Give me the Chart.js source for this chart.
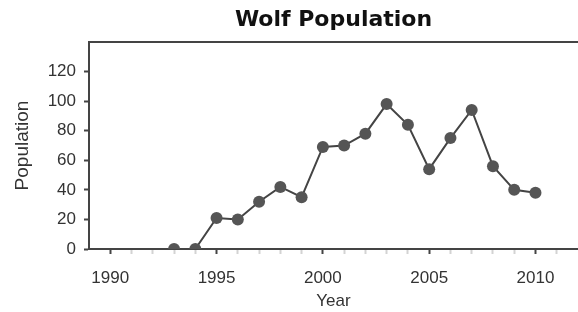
<!DOCTYPE html>
<html><head><meta charset="utf-8">
<script src="https://cdn.jsdelivr.net/npm/chart.js@4"></script>
<style>html,body{margin:0;padding:0;background:#fff}#c{display:block}</style>
</head><body>
<canvas id="c" width="578" height="312"></canvas>
<script>
const years = [1993,1994,1995,1996,1997,1998,1999,2000,2001,2002,2003,2004,2005,2006,2007,2008,2009,2010];
const population = [0,0,21,20,32,42,35,69,70,78,98,84,54,75,94,56,40,38];
const yTicks = [0,20,40,60,80,100,120];
const xTicks = [1990,1995,2000,2005,2010];
const xMinorTicks = [1991,1992,1993,1994,1996,1997,1998,1999,2001,2002,2003,2004,2006,2007,2008,2009,2011];

const frame = {
  id:'frame',
  afterDraw(chart){
    const {ctx, chartArea:a} = chart;
    ctx.save();
    ctx.strokeStyle='#444'; ctx.lineWidth=2;
    ctx.beginPath(); ctx.moveTo(a.left-1, a.top); ctx.lineTo(a.right, a.top); ctx.stroke();
    ctx.restore();
  }
};
const fam = '"Liberation Sans", Arial, sans-serif';
const tickFont = {family:fam, size:17};
new Chart(document.getElementById('c'), {
  type:'scatter',
  data:{datasets:[{
    data: years.map((y,i)=>({x:y, y:population[i]})),
    showLine:true, borderColor:'#444', borderWidth:2,
    pointRadius:6, pointBackgroundColor:'#555', pointBorderColor:'#555', pointBorderWidth:0
  }]},
  options:{
    responsive:false, animation:false,
    layout:{padding:0, autoPadding:false},
    plugins:{
      legend:{display:false}, tooltip:{enabled:false},
      title:{display:true, fullSize:false, text:'Wolf Population', color:'#111',
        font:{family:'"DejaVu Sans", sans-serif', size:22, weight:'bold'},
        padding:{top:7.5, bottom:8.1}}
    },
    scales:{
      x:{type:'linear', min:1989, max:2012,
        afterBuildTicks(s){ s.ticks = xTicks.concat(xMinorTicks).sort((a,b)=>a-b).map(v=>({value:v})); },
        afterFit(s){ s.height = 63; },
        grid:{drawOnChartArea:false, tickLength:5, tickWidth:2,
          tickColor:(c)=> xTicks.includes(c.tick && c.tick.value) ? '#444' : 'rgba(80,80,80,0.25)'},
        border:{color:'#444', width:2},
        ticks:{color:'#333', font:tickFont, padding:14, maxRotation:0, autoSkip:false,
          callback:(v)=> xTicks.includes(v) ? String(v) : ''},
        title:{display:true, text:'Year', color:'#333', font:{family:fam, size:17}, padding:{top:0,bottom:0}}
      },
      y:{min:0, max:140,
        afterBuildTicks(s){ s.ticks = yTicks.map(v=>({value:v})); },
        afterFit(s){ s.width = 89; },
        grid:{drawOnChartArea:false, tickLength:5, tickColor:'#444', tickWidth:2},
        border:{color:'#444', width:2},
        ticks:{color:'#333', font:tickFont, padding:8},
        title:{display:true, text:'Population', color:'#333', font:{family:fam, size:19}, padding:{top:11,bottom:0}}
      }
    }
  },
  plugins:[frame]
});
</script>
</body></html>
